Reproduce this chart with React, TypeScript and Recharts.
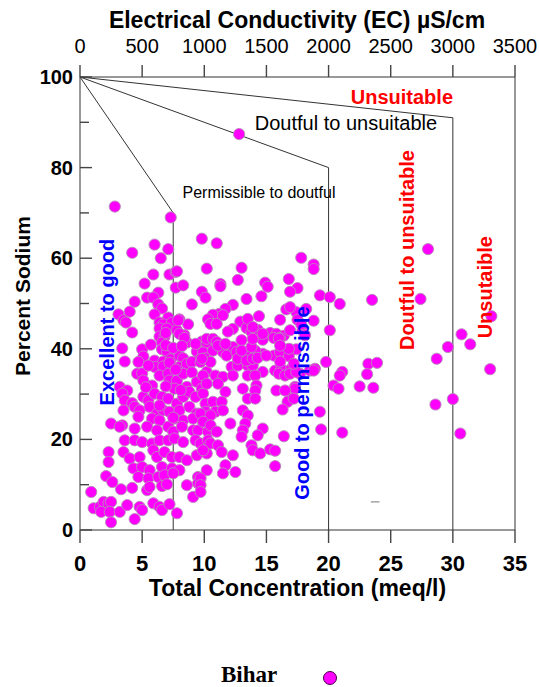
import React from 'react';
import { ScatterChart, Scatter, XAxis, YAxis, ReferenceLine, ReferenceDot } from 'recharts';

// Total concentration (meq/l) of each sample
const concentration = [
    2.8, 7.3, 9.8, 4.2, 6.0, 7.1, 6.5, 10.2, 5.9, 7.2, 7.7, 5.2, 7.7, 8.3, 6.3, 9.8, 5.4, 5.9, 4.4, 6.3,
    9.0, 10.1, 6.6, 4.0, 3.1, 6.0, 7.1, 3.5, 3.7, 6.4, 6.7, 7.4, 8.0, 6.4, 7.0, 7.8, 8.7, 4.2, 6.4, 6.8,
    8.4, 8.6, 6.6, 9.8, 10.2, 3.4, 5.0, 5.1, 6.6, 7.0, 9.4, 9.9, 3.6, 6.0, 6.7, 7.3, 8.0, 8.3, 9.5, 10.1,
    4.7, 6.0, 6.7, 7.2, 8.0, 8.6, 9.0, 9.7, 10.2, 4.6, 5.0, 5.1, 5.8, 6.4, 7.1, 7.2, 7.8, 7.6, 8.3, 8.6,
    9.4, 9.8, 3.2, 3.8, 3.4, 3.6, 4.2, 3.5, 3.4, 5.1, 5.5, 6.0, 6.6, 7.1, 7.8, 8.3, 8.8, 9.3, 9.9, 10.1,
    4.4, 4.8, 5.6, 6.2, 6.7, 7.2, 8.0, 8.8, 9.4, 10.1, 4.7, 5.8, 6.4, 7.6, 8.3, 9.1, 10.2, 2.5, 3.2, 4.4,
    5.4, 6.2, 7.1, 7.5, 8.2, 9.1, 9.5, 10.3, 3.6, 4.4, 5.0, 5.8, 6.4, 7.1, 7.6, 8.3, 9.3, 9.7, 10.3, 2.3,
    3.5, 4.0, 4.8, 5.9, 6.2, 6.8, 7.4, 8.0, 8.6, 9.4, 10.2, 2.3, 4.3, 5.0, 5.6, 6.6, 7.4, 8.0, 4.7, 5.5,
    6.3, 6.8, 7.5, 2.1, 2.6, 3.3, 4.2, 5.4, 5.6, 6.6, 7.0, 8.6, 9.5, 9.5, 9.1, 0.9, 1.1, 1.6, 1.9, 2.3,
    2.5, 1.7, 2.4, 3.2, 3.8, 4.8, 5.0, 5.9, 6.4, 6.6, 7.2, 7.8, 2.5, 4.4,
    10.5, 12.2, 12.7, 13.5, 13.9, 14.7, 15.7, 16.2, 17.0, 17.7, 18.5, 18.9, 19.8, 9.9, 10.9, 11.5, 12.3, 13.5, 14.1, 16.0,
    16.5, 16.9, 17.4, 10.2, 11.1, 11.7, 13.1, 14.2, 14.1, 15.8, 17.3, 20.4, 10.7, 11.4, 10.9, 13.5, 14.1, 16.9, 16.7, 9.7,
    10.5, 11.5, 13.1, 13.5, 16.3, 19.3, 19.4, 9.9, 10.5, 12.1, 13.3, 13.1, 14.7, 14.3, 13.0, 16.4, 11.0, 10.5, 11.1, 9.9,
    11.4, 13.8, 13.9, 14.5, 15.3, 15.7, 12.3, 11.7, 11.5, 12.5, 15.7, 10.2, 9.7, 9.7, 9.7,
    11.0, 13.0, 12.7, 11.3, 11.3, 14.9, 15.1, 16.8, 17.5, 17.8, 18.8, 18.8, 13.4, 14.6, 12.3, 11.7, 11.2, 10.7, 10.3, 10.5,
    11.0, 19.3, 20.1, 16.6, 16.1, 17.4, 18.2, 17.5, 18.8, 17.9, 18.1, 14.4, 12.9, 12.3, 11.9, 13.4, 13.8, 14.3, 15.3, 15.8,
    15.6, 16.4, 14.7, 14.7, 13.0, 14.1, 15.6, 16.1, 16.9, 17.4, 16.8, 16.1, 20.1, 10.2, 10.7, 11.0, 11.3, 10.7, 11.5, 9.8,
    11.8, 12.3, 12.6, 13.1, 13.7, 12.7, 13.4, 13.9, 14.3, 15.0,
    28.0, 16.9, 20.9, 23.5, 27.4, 17.8, 30.7, 31.4, 29.6, 33.1, 23.2, 23.9, 23.1, 21.1, 20.9, 20.8, 22.5, 23.6, 21.1, 28.7,
    33.0, 28.6, 30.0, 30.6, 16.1, 16.8, 17.2, 18.8, 17.3, 16.5, 17.2, 12.8,
    7.8, 7.9, 11.5, 13.5, 13.9, 16.9, 16.9, 6.9, 8.0, 8.4, 9.3, 11.1, 11.7, 13.0, 13.8, 13.9, 14.7, 16.0, 16.1,
    6.9, 7.5, 8.2, 5.7, 5.5, 7.7, 9.0, 6.9, 8.1, 5.3, 6.4, 7.5,
];

// Percent sodium of each sample, same order
const sodium = [
    71.4, 69.0, 64.3, 61.2, 63.0, 62.0, 60.0, 57.7, 56.4, 56.4, 57.0, 54.4, 53.5, 54.0, 52.4, 52.6, 51.3, 51.3, 50.4, 49.8,
    49.8, 51.3, 48.9, 48.2, 47.6, 47.6, 46.9, 46.3, 45.8, 45.8, 45.4, 45.8, 46.5, 44.5, 44.5, 44.1, 45.4, 43.6, 42.7, 42.7,
    43.0, 41.4, 41.4, 41.6, 41.4, 40.1, 39.9, 38.3, 39.9, 39.4, 39.4, 39.2, 37.2, 37.4, 37.2, 37.7, 38.5, 37.9, 37.4, 37.9,
    37.1, 36.0, 36.1, 36.9, 36.0, 36.7, 37.1, 37.1, 34.9, 34.5, 34.6, 33.0, 31.9, 34.1, 34.5, 33.0, 33.0, 31.2, 34.5, 31.6,
    32.7, 31.2, 31.6, 30.8, 30.1, 28.6, 28.0, 26.4, 23.1, 29.4, 28.6, 30.1, 29.4, 29.0, 27.9, 29.4, 30.5, 29.4, 30.1, 27.9,
    27.2, 26.4, 27.2, 25.7, 26.4, 26.1, 26.4, 27.2, 25.7, 26.1, 25.0, 24.6, 24.2, 24.6, 24.2, 24.6, 25.0, 23.5, 22.8, 22.4,
    22.8, 22.0, 22.8, 21.7, 22.8, 22.0, 22.0, 21.7, 19.8, 19.8, 19.4, 19.1, 19.8, 19.8, 20.2, 19.4, 19.8, 19.1, 19.8, 17.2,
    17.2, 15.8, 16.1, 17.6, 16.1, 17.2, 16.1, 16.1, 15.4, 16.5, 16.9, 15.0, 13.6, 13.9, 13.2, 13.9, 13.6, 13.2, 11.7, 11.4,
    11.7, 12.1, 12.5, 11.9, 10.6, 9.0, 9.3, 8.8, 9.5, 9.7, 10.1, 9.9, 11.7, 10.3, 7.3, 8.4, 4.8, 5.1, 6.2, 5.9,
    6.2, 4.0, 4.0, 4.0, 5.5, 5.1, 4.4, 5.9, 5.1, 4.4, 5.7, 3.7, 1.7, 2.4,
    37.1, 36.0, 36.3, 36.3, 36.3, 34.9, 35.2, 35.6, 35.6, 34.5, 35.2, 35.6, 37.1, 34.1, 34.1, 33.8, 34.1, 34.1, 34.1, 34.5,
    34.1, 34.5, 34.9, 32.3, 32.3, 30.5, 31.2, 31.9, 30.8, 30.8, 31.6, 31.9, 28.3, 28.3, 26.1, 29.0, 29.0, 29.0, 28.3, 25.7,
    25.3, 26.4, 26.4, 25.3, 26.6, 26.1, 22.2, 23.9, 23.1, 23.5, 23.5, 22.0, 22.4, 20.9, 20.6, 20.7, 21.7, 19.1, 18.7, 17.6,
    17.2, 18.7, 17.6, 16.9, 17.8, 17.5, 16.5, 14.3, 12.5, 12.8, 14.1, 13.2, 11.4, 9.9, 8.4,
    63.3, 57.9, 55.2, 54.3, 53.8, 54.6, 53.7, 55.4, 53.4, 60.1, 58.6, 57.6, 51.0, 51.6, 49.7, 48.8, 47.7, 47.5, 46.5, 45.5,
    45.5, 51.8, 51.4, 48.7, 46.4, 48.1, 48.8, 46.4, 46.2, 44.1, 43.0, 47.2, 46.0, 44.4, 43.8, 44.6, 43.7, 44.2, 43.5, 43.3,
    42.4, 42.9, 42.0, 38.9, 41.9, 39.6, 38.5, 39.3, 39.9, 39.9, 38.4, 37.2, 44.1, 42.2, 42.2, 41.5, 40.4, 39.6, 39.3, 37.8,
    38.5, 40.4, 39.3, 39.3, 38.5, 37.8, 37.4, 37.8, 38.0, 38.5,
    62.0, 52.6, 49.9, 50.8, 51.0, 45.4, 43.2, 41.0, 40.4, 47.2, 36.7, 36.9, 34.4, 34.9, 34.1, 31.2, 31.7, 31.4, 21.5, 37.8,
    35.5, 27.7, 28.9, 21.3, 42.4, 40.0, 36.7, 35.2, 31.2, 30.8, 29.0, 87.4,
    57.1, 46.3, 47.4, 46.6, 44.8, 44.1, 49.2, 43.5, 43.3, 42.4, 41.1, 40.7, 41.1, 39.6, 40.4, 42.2, 43.3, 42.2, 40.7,
    40.8, 40.2, 40.6, 40.9, 36.3, 35.4, 34.8, 31.7, 30.9, 31.5, 27.5, 24.8,
];

const samples = concentration.map((c, i) => ({ c, na: sodium[i] }));

const concTicks = [0, 5, 10, 15, 20, 25, 30, 35];
const ecTicks = [0, 500, 1000, 1500, 2000, 2500, 3000, 3500];
const sodiumTicks = [0, 10, 20, 30, 40, 50, 60, 70, 80, 90, 100];

// Wilcox class boundaries: concentration where each sloping line meets its vertical, and % Na there
const boundaryConc = [7.5, 20, 30];
const boundarySodium = [70, 80, 91];

// tick positions as points, so the marks go through the same scales as the data
const sodiumTickPts = sodiumTicks.map((v) => ({ c: 0, na: v, major: v % 20 === 0 }));
const concTickPts = concTicks.map((v) => ({ c: v, na: 0 }));
const ecTickPts = ecTicks.map((v) => ({ ec: v, na: 100 }));

const FONT = '"Liberation Sans", Arial, sans-serif';
const LINE = '#333';
const TICK = '#444';

const SodiumLabel = (props: any) =>
    props.payload.value % 20 === 0 ? (
        <text x={props.x - 7} y={props.y} dy="0.35em" textAnchor="end" fontFamily={FONT} fontSize={20} fontWeight={700} fill="#000">
            {props.payload.value}
        </text>
    ) : (
        <g />
    );

const ConcLabel = (props: any) => (
    <text x={props.x} y={props.y + 41} textAnchor="middle" fontFamily={FONT} fontSize={22} fontWeight={700} fill="#000">
        {props.payload.value}
    </text>
);

const EcLabel = (props: any) => (
    <text x={props.x} y={props.y - 24} textAnchor="middle" fontFamily={FONT} fontSize={20} fill="#000">
        {props.payload.value}
    </text>
);

const inwardTick = (p: any) => (
    <line x1={p.cx} y1={p.cy} x2={p.cx + (p.payload.major ? 12 : 9)} y2={p.cy} stroke={TICK} strokeWidth={1.4} />
);
const downTick = (p: any) => <line x1={p.cx} y1={p.cy} x2={p.cx} y2={p.cy + 13} stroke={TICK} strokeWidth={1.4} />;
const upTick = (p: any) => <line x1={p.cx} y1={p.cy} x2={p.cx} y2={p.cy - 12} stroke={TICK} strokeWidth={1.4} />;

const zoneLabel = (text: string, color: string, size: number, weight: number, angle = 0) => (props: any) => {
    const vb = props.viewBox;
    const cx = vb.x + (vb.width || 0) / 2;
    const cy = vb.y + (vb.height || 0) / 2;
    return (
        <text
            x={cx}
            y={cy}
            transform={angle ? `rotate(${angle} ${cx} ${cy})` : undefined}
            textAnchor="middle"
            dominantBaseline="central"
            fill={color}
            fontSize={size}
            fontWeight={weight}
            fontFamily={FONT}
        >
            {text}
        </text>
    );
};

const dot = (props: any) => (
    <circle cx={props.cx} cy={props.cy} r={5.6} fill="#ff00ff" stroke="#b58ab5" strokeWidth={0.9} />
);

export default function App() {
    return (
        <div style={{ position: 'absolute', left: 0, top: 0, width: 539, height: 687, background: '#fff' }}>
            <ScatterChart width={539} height={605} margin={{ top: 37, right: 24, bottom: 35, left: 40 }}>
                <XAxis
                    dataKey="c"
                    type="number"
                    domain={[0, 35]}
                    ticks={concTicks}
                    interval={0}
                    height={40}
                    stroke={LINE}
                    tickLine={false}
                    tickSize={0}
                    tickMargin={0}
                    tick={ConcLabel}
                    label={(p: any) => (
                        <text x={p.viewBox.x + p.viewBox.width / 2} y={p.viewBox.y + 58} textAnchor="middle" dominantBaseline="central" fontFamily={FONT} fontSize={23} fontWeight={700} fill="#000">
                            Total Concentration (meq/l)
                        </text>
                    )}
                />
                <XAxis
                    xAxisId="ec"
                    orientation="top"
                    type="number"
                    dataKey="ec"
                    domain={[0, 3500]}
                    ticks={ecTicks}
                    interval={0}
                    height={40}
                    stroke={LINE}
                    tickLine={false}
                    tickSize={0}
                    tickMargin={0}
                    tick={EcLabel}
                    label={() => (
                        <text x={297} y={20} textAnchor="middle" dominantBaseline="central" fontFamily={FONT} fontSize={23} fontWeight={700} fill="#000">
                            Electrical Conductivity (EC) µS/cm
                        </text>
                    )}
                />
                <YAxis
                    dataKey="na"
                    type="number"
                    domain={[0, 100]}
                    ticks={sodiumTicks}
                    interval={0}
                    width={40}
                    stroke={LINE}
                    tickLine={false}
                    tickSize={0}
                    tickMargin={0}
                    tick={SodiumLabel}
                    label={() => (
                        <text x={22} y={296} transform="rotate(-90 22 296)" textAnchor="middle" dominantBaseline="central" fontFamily={FONT} fontSize={21} fontWeight={700} fill="#000">
                            Percent Sodium
                        </text>
                    )}
                />

                {/* right side of the frame */}
                <ReferenceLine segment={[{ x: 35, y: 100 }, { x: 35, y: 0 }]} stroke={LINE} />

                {/* class boundaries */}
                {boundaryConc.map((c, i) => (
                    <ReferenceLine key={'s' + i} segment={[{ x: 0, y: 100 }, { x: c, y: boundarySodium[i] }]} stroke={LINE} />
                ))}
                {boundaryConc.map((c, i) => (
                    <ReferenceLine key={'v' + i} segment={[{ x: c, y: boundarySodium[i] }, { x: c, y: 0 }]} stroke={LINE} />
                ))}
                <ReferenceLine segment={[{ x: 23.4, y: 6.2 }, { x: 24.1, y: 6.2 }]} stroke="#777" />

                {/* tick marks */}
                <Scatter data={sodiumTickPts} isAnimationActive={false} shape={inwardTick} />
                <Scatter data={concTickPts} isAnimationActive={false} shape={downTick} />
                <Scatter xAxisId="ec" data={ecTickPts} isAnimationActive={false} shape={upTick} />

                <Scatter data={samples} isAnimationActive={false} shape={dot} />

                <ReferenceDot x={25.9} y={95.6} r={0} fill="none" stroke="none" label={zoneLabel('Unsuitable', '#ff0000', 20, 700)} />
                <ReferenceDot x={21.4} y={89.8} r={0} fill="none" stroke="none" label={zoneLabel('Doutful to unsuitable', '#000', 20, 400)} />
                <ReferenceDot x={14.4} y={74.4} r={0} fill="none" stroke="none" label={zoneLabel('Permissible to doutful', '#000', 16, 400)} />
                <ReferenceDot x={2.2} y={45.9} r={0} fill="none" stroke="none" label={zoneLabel('Excellent to good', '#0000ff', 20, 700, -90)} />
                <ReferenceDot x={17.9} y={28.0} r={0} fill="none" stroke="none" label={zoneLabel('Good to permissible', '#0000ff', 20, 700, -90)} />
                <ReferenceDot x={26.3} y={61.8} r={0} fill="none" stroke="none" label={zoneLabel('Doutful to unsuitable', '#ff0000', 20, 700, -90)} />
                <ReferenceDot x={32.6} y={53.6} r={0} fill="none" stroke="none" label={zoneLabel('Unsutaible', '#ff0000', 20, 700, -90)} />
            </ScatterChart>

            <div style={{ position: 'absolute', left: 0, top: 662, width: 539 }}>
                <span style={{ position: 'absolute', left: 221, top: 0, fontFamily: '"Liberation Serif", "Times New Roman", serif', fontWeight: 700, fontSize: 23 }}>Bihar</span>
                <svg style={{ position: 'absolute', left: 322, top: 8 }} width={16} height={16}>
                    <circle cx={8} cy={8} r={6.5} fill="#ff00ff" stroke="#4a004a" strokeWidth={1} />
                </svg>
            </div>
        </div>
    );
}
